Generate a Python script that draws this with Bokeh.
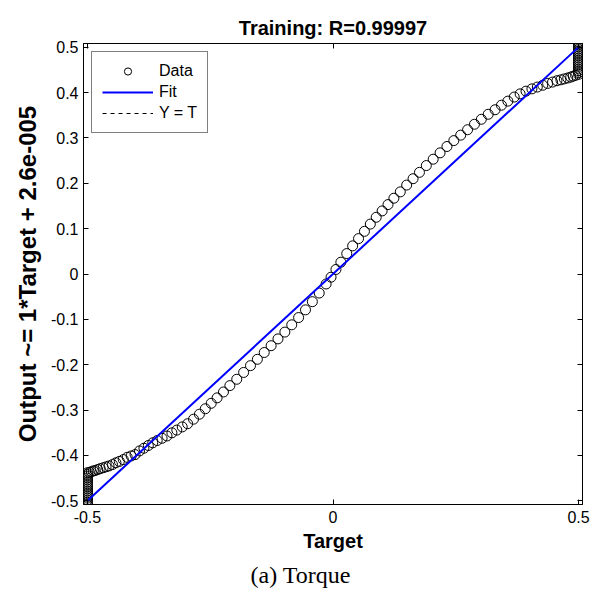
from bokeh.plotting import figure
from bokeh.models import (LinearAxis, FixedTicker, Legend, LegendItem, Title, ColumnDataSource)
from bokeh.embed import file_html
from bokeh.resources import INLINE

# ---- data ----
# stack of points at Target = -0.5
stack_lo_t = [-0.5] * 19
stack_lo_o = [-0.510, -0.506, -0.502, -0.498, -0.494, -0.490, -0.486, -0.482, -0.478, -0.474,
              -0.470, -0.466, -0.462, -0.458, -0.454, -0.450, -0.446, -0.442, -0.438]
# main curve
curve_t = [
    -0.496, -0.492, -0.488, -0.484, -0.479, -0.474, -0.468, -0.462, -0.456, -0.449,
    -0.442, -0.435, -0.427, -0.419, -0.411, -0.403, -0.394, -0.385, -0.376, -0.367,
    -0.358, -0.348, -0.338, -0.328, -0.318, -0.307, -0.296, -0.284, -0.272, -0.260,
    -0.248, -0.236, -0.223, -0.210, -0.196, -0.182, -0.168, -0.154, -0.140, -0.126,
    -0.112, -0.098, -0.084, -0.070, -0.056, -0.042, -0.028, -0.014, -0.004,
    0.006, 0.016, 0.028, 0.040, 0.052, 0.064, 0.076, 0.088, 0.100, 0.112,
    0.124, 0.137, 0.150, 0.163, 0.176, 0.190, 0.204, 0.218, 0.232, 0.246,
    0.260, 0.274, 0.288, 0.302, 0.316, 0.330, 0.343, 0.356, 0.369, 0.381,
    0.393, 0.405, 0.416, 0.427, 0.437, 0.447, 0.456, 0.464, 0.471, 0.478,
    0.484, 0.489, 0.494,
]
curve_o = [
    -0.437, -0.436, -0.434, -0.433, -0.431, -0.429, -0.427, -0.425, -0.423, -0.420,
    -0.416, -0.413, -0.409, -0.404, -0.401, -0.398, -0.390, -0.384, -0.378, -0.372,
    -0.367, -0.362, -0.357, -0.350, -0.344, -0.337, -0.330, -0.320, -0.309, -0.297,
    -0.285, -0.273, -0.260, -0.246, -0.232, -0.217, -0.202, -0.188, -0.173, -0.158,
    -0.143, -0.128, -0.112, -0.096, -0.079, -0.061, -0.042, -0.022, -0.007,
    0.010, 0.026, 0.045, 0.062, 0.078, 0.094, 0.110, 0.125, 0.139, 0.153,
    0.167, 0.181, 0.196, 0.210, 0.224, 0.239, 0.253, 0.267, 0.281, 0.294,
    0.306, 0.318, 0.330, 0.341, 0.352, 0.362, 0.372, 0.381, 0.390, 0.397,
    0.403, 0.408, 0.412, 0.416, 0.420, 0.423, 0.426, 0.428, 0.430, 0.432,
    0.434, 0.436, 0.438,
]
# stack of points at Target = 0.5
stack_hi_t = [0.5] * 19
stack_hi_o = [0.440, 0.444, 0.448, 0.452, 0.456, 0.460, 0.464, 0.468, 0.472, 0.476,
              0.480, 0.484, 0.488, 0.492, 0.496, 0.500, 0.504, 0.508, 0.512]

target = stack_lo_t + curve_t + stack_hi_t
output = stack_lo_o + curve_o + stack_hi_o

fit_x = [-0.5, 0.5]
fit_slope = 1.0
fit_offset = 2.6e-5
fit_y = [fit_slope * v + fit_offset for v in fit_x]
ident_x = [-0.5, 0.5]
ident_y = [-0.5, 0.5]

x_ticks = [-0.5, 0, 0.5]
x_tick_labels = ["-0.5", "0", "0.5"]
y_ticks = [-0.5, -0.4, -0.3, -0.2, -0.1, 0, 0.1, 0.2, 0.3, 0.4, 0.5]
y_tick_labels = ["-0.5", "-0.4", "-0.3", "-0.2", "-0.1", "0", "0.1", "0.2", "0.3", "0.4", "0.5"]

title_text = "Training: R=0.99997"
x_label = "Target"
y_label = "Output ~= 1*Target + 2.6e-005"
caption = "(a) Torque"

FONT = "Liberation Sans"

p = figure(width=597, height=592, x_range=(-0.508, 0.508), y_range=(-0.508, 0.508),
           output_backend="svg", toolbar_location=None,
           min_border_left=83, min_border_right=15, min_border_top=43, min_border_bottom=81)
p.xgrid.visible = False
p.ygrid.visible = False
p.outline_line_color = "black"
p.outline_line_width = 1
p.background_fill_color = "white"
p.border_fill_color = "white"

p.title.text = title_text
p.title.text_font = FONT
p.title.text_font_size = "20px"
p.title.text_font_style = "bold"
p.title.align = "center"
p.title.text_color = "black"

def style_axis(ax, show_labels):
    ax.axis_line_color = "black"
    ax.major_tick_line_color = "black"
    ax.major_tick_in = 5
    ax.major_tick_out = 0
    ax.minor_tick_line_color = None
    ax.major_label_text_font = FONT
    ax.major_label_text_color = "black"
    if show_labels:
        ax.major_label_text_font_size = "16px"
    else:
        ax.major_label_text_font_size = "0px"
        ax.major_label_standoff = 0

xax = p.xaxis[0]
yax = p.yaxis[0]
xax.ticker = FixedTicker(ticks=x_ticks)
yax.ticker = FixedTicker(ticks=y_ticks)
xax.major_label_overrides = dict(zip(x_ticks, x_tick_labels))
yax.major_label_overrides = dict(zip(y_ticks, y_tick_labels))
style_axis(xax, True)
style_axis(yax, True)
xax.major_label_standoff = 6
yax.major_label_standoff = 5
xax.axis_label = x_label
yax.axis_label = y_label
for ax in (xax, yax):
    ax.axis_label_text_font = FONT
    ax.axis_label_text_font_style = "bold"
    ax.axis_label_text_color = "black"
xax.axis_label_text_font_size = "20px"
yax.axis_label_text_font_size = "24px"
xax.axis_label_standoff = 4
yax.axis_label_standoff = 7

top_ax = LinearAxis(ticker=FixedTicker(ticks=x_ticks))
right_ax = LinearAxis(ticker=FixedTicker(ticks=y_ticks))
style_axis(top_ax, False)
style_axis(right_ax, False)
p.add_layout(top_ax, "above")
p.add_layout(right_ax, "right")

cap = Title(text=caption, text_font="Liberation Serif", text_font_size="24px",
            text_font_style="normal", align="left", offset=167, text_color="black")
p.add_layout(cap, "below")

src = ColumnDataSource(data=dict(t=target, o=output))
r_data = p.scatter("t", "o", source=src, marker="circle", size=10,
                   line_color="black", line_width=1, fill_alpha=0)
r_ident = p.line(ident_x, ident_y, line_color="black", line_width=1, line_dash="4 4")
r_fit = p.line(fit_x, fit_y, line_color="blue", line_width=2)

legend = Legend(items=[LegendItem(label="Data", renderers=[r_data]),
                       LegendItem(label="Fit", renderers=[r_fit]),
                       LegendItem(label="Y = T", renderers=[r_ident])],
                location="top_left")
legend.label_text_font = FONT
legend.label_text_font_size = "16px"
legend.label_text_color = "black"
legend.border_line_color = "black"
legend.border_line_width = 1
legend.background_fill_color = "white"
legend.background_fill_alpha = 1
legend.glyph_width = 51
legend.glyph_height = 18
legend.label_height = 18
legend.label_standoff = 6
legend.padding = 10
legend.spacing = 3
legend.margin = 8
p.add_layout(legend)

open("out.html", "w").write(file_html(p, INLINE))
